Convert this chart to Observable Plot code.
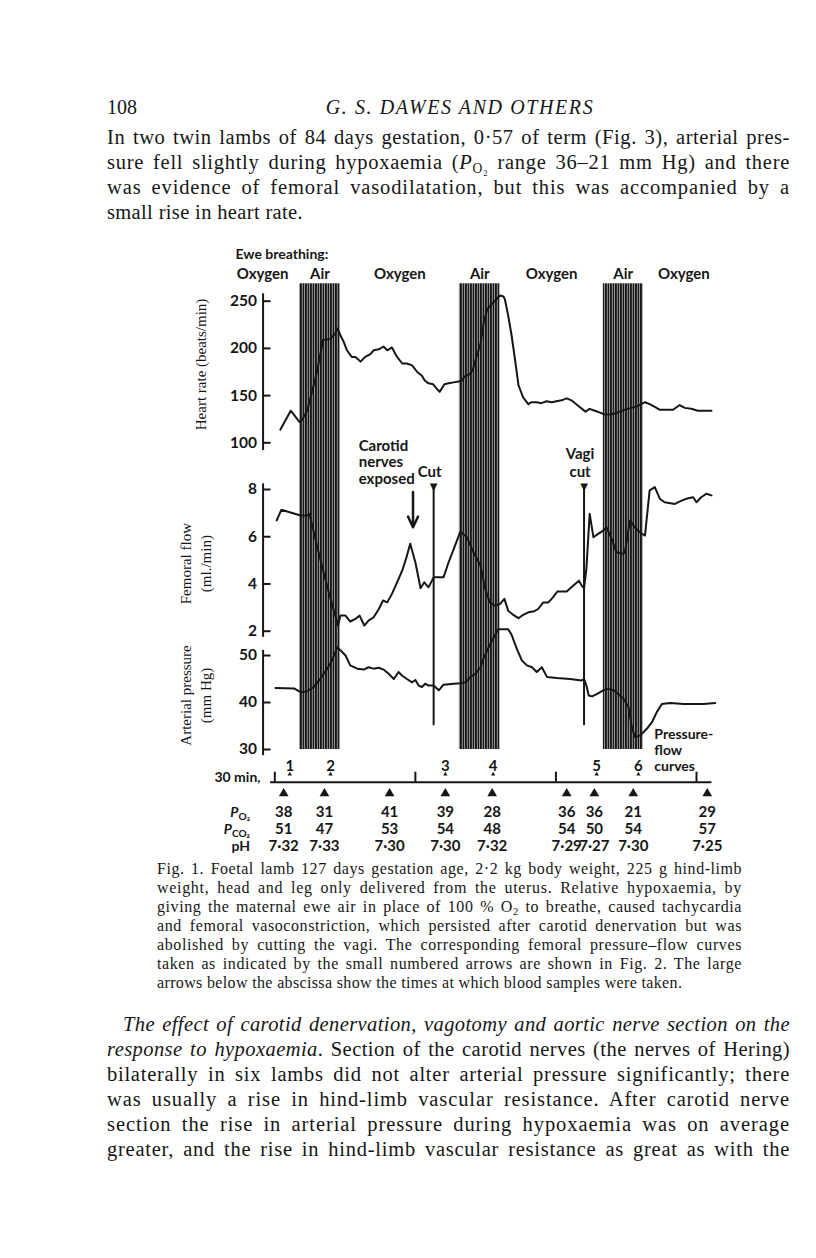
<!DOCTYPE html>
<html>
<head>
<meta charset="utf-8">
<script src="https://cdn.jsdelivr.net/npm/d3@7"></script>
<script src="https://cdn.jsdelivr.net/npm/@observablehq/plot@0.6"></script>
<style>
html,body{margin:0;padding:0;background:#fff;}
#page{position:relative;width:816px;height:1258px;overflow:hidden;background:#fff;color:#161616;}
.t{position:absolute;font-family:"Liberation Serif","Times New Roman",serif;white-space:nowrap;}
.jl{text-align:justify;text-align-last:justify;}
.body{font-size:20.5px;line-height:25px;left:107px;width:683px;}
.cap{font-size:16px;line-height:19px;left:157px;width:585px;}
sub{font-size:0.66em;line-height:0;vertical-align:-0.3em;}
.row{position:absolute;font-family:Lato,"DejaVu Sans",sans-serif;font-weight:bold;font-size:14px;text-align:right;width:70px;left:180px;line-height:16px;color:#161616;}
.row sub{font-size:0.72em;}
#fig{position:absolute;left:0;top:0;width:816px;height:880px;}
</style>
</head>
<body>
<div id="page">
<svg width="0" height="0" style="position:absolute"><defs>
<pattern id="airHatch" patternUnits="userSpaceOnUse" width="5" height="12">
<rect width="5" height="12" fill="#e6e6e6"/>
<rect x="0" width="1.9" height="12" fill="#161616"/>
<rect x="2.5" width="1.9" height="12" fill="#161616"/>
</pattern></defs></svg>

<div class="t" style="left:107px;top:94.5px;font-size:20px;line-height:25px;">108</div>
<div class="t" style="left:260px;width:400px;text-align:center;top:94.5px;font-size:20px;line-height:25px;font-style:italic;letter-spacing:1.6px;">G. S. DAWES AND OTHERS</div>

<div class="t body jl" style="top:124.5px;">In two twin lambs of 84 days gestation, 0·57 of term (Fig. 3), arterial pres-</div>
<div class="t body jl" style="top:149.5px;">sure fell slightly during hypoxaemia (<i>P</i><sub>O₂</sub> range 36–21 mm Hg) and there</div>
<div class="t body jl" style="top:174.5px;">was evidence of femoral vasodilatation, but this was accompanied by a</div>
<div class="t body fit" style="top:199.5px;">small rise in heart rate.</div>

<div id="fig"></div>

<div class="row" style="top:804px;"><i>P</i><sub>O₂</sub></div>
<div class="row" style="top:821px;"><i>P</i><sub>CO₂</sub></div>
<div class="row" style="top:838px;">pH</div>

<div class="t cap jl" style="top:858.5px;">Fig. 1. Foetal lamb 127 days gestation age, 2·2 kg body weight, 225 g hind-limb</div>
<div class="t cap jl" style="top:877.5px;">weight, head and leg only delivered from the uterus. Relative hypoxaemia, by</div>
<div class="t cap jl" style="top:896.5px;">giving the maternal ewe air in place of 100 % O<sub>2</sub> to breathe, caused tachycardia</div>
<div class="t cap jl" style="top:915.5px;">and femoral vasoconstriction, which persisted after carotid denervation but was</div>
<div class="t cap jl" style="top:934.5px;">abolished by cutting the vagi. The corresponding femoral pressure–flow curves</div>
<div class="t cap jl" style="top:953.5px;">taken as indicated by the small numbered arrows are shown in Fig. 2. The large</div>
<div class="t cap fit" style="top:972.5px;">arrows below the abscissa show the times at which blood samples were taken.</div>

<div class="t body jl" style="top:1011.5px;left:123px;width:667px;"><i>The effect of carotid denervation, vagotomy and aortic nerve section on the</i></div>
<div class="t body jl" style="top:1036.5px;"><i>response to hypoxaemia</i>. Section of the carotid nerves (the nerves of Hering)</div>
<div class="t body jl" style="top:1061.5px;">bilaterally in six lambs did not alter arterial pressure significantly; there</div>
<div class="t body jl" style="top:1086.5px;">was usually a rise in hind-limb vascular resistance. After carotid nerve</div>
<div class="t body jl" style="top:1111.5px;">section the rise in arterial pressure during hypoxaemia was on average</div>
<div class="t body jl" style="top:1136.5px;">greater, and the rise in hind-limb vascular resistance as great as with the</div>
</div>

<script>
// ---------------- data (time in minutes) ----------------
const phaseLabels = ["Oxygen", "Air", "Oxygen", "Air", "Oxygen", "Air", "Oxygen"];
const phaseStart  = [-10.5, 5.3, 14.0, 39.4, 48.1, 70.1, 78.6];
const phaseEnd    = [5.3, 14.0, 39.4, 48.1, 70.1, 78.6, 96.0];

const hrTime = [1.2, 3.4, 5.3, 5.8, 6.9, 8.0, 9.0, 10.3, 11.9, 12.9, 13.4, 14.0, 14.7, 15.4, 16.4, 17.2, 18.3, 19.3, 20.4, 21.1, 22.2, 23.2, 24.0, 25.0, 26.1, 27.2, 28.2, 29.3, 30.4, 31.4, 32.0, 32.8, 33.8, 34.6, 35.2, 36.2, 37.1, 38.2, 39.2, 40.0, 40.4, 41.7, 42.3, 42.8, 43.9, 44.6, 45.3, 46.3, 47.3, 48.1, 48.8, 49.1, 49.8, 50.5, 51.3, 52.0, 53.0, 54.1, 54.8, 55.9, 56.9, 58.0, 59.1, 60.1, 61.2, 62.3, 63.3, 64.8, 66.3, 67.2, 68.3, 69.4, 70.4, 71.5, 72.6, 73.6, 74.7, 76.1, 77.5, 79.0, 80.0, 81.1, 82.2, 85.0, 86.4, 87.5, 88.9, 90.3, 93.2];
const hrRate = [114, 134, 122, 124, 134, 155, 175, 209, 210, 216, 221, 214, 207, 198, 191, 191, 186, 191, 194, 198, 199, 202, 198, 201, 191, 184, 184, 182, 175, 171, 166, 163, 162, 157, 154, 162, 163, 164, 165, 166, 170, 173, 178, 187, 205, 228, 241, 247, 252, 256, 255, 252, 235, 215, 187, 161, 148, 141, 143, 143, 142, 144, 143, 144, 145, 147, 145, 139, 133, 136, 134, 132, 130, 130, 131, 133, 135, 137, 139, 143, 141, 138, 135, 135, 140, 137, 136, 134, 134];

const flowTime = [0.4, 1.4, 5.5, 6.9, 7.4, 8.0, 9.0, 10.4, 11.9, 12.9, 13.5, 14.0, 15.1, 16.1, 17.2, 18.1, 19.1, 20.0, 21.1, 22.2, 23.1, 24.0, 25.0, 26.1, 27.2, 28.0, 28.9, 30.0, 31.1, 31.9, 32.8, 33.9, 36.0, 37.1, 38.2, 39.6, 41.0, 42.4, 43.9, 44.9, 45.9, 47.0, 48.1, 49.0, 49.8, 50.9, 52.0, 53.0, 54.1, 55.2, 56.2, 57.3, 58.4, 59.4, 60.3, 62.3, 63.3, 64.9, 65.5, 66.0, 66.5, 67.2, 68.0, 69.0, 70.1, 70.8, 71.9, 72.9, 74.4, 74.7, 75.8, 76.8, 77.9, 79.0, 80.0, 81.1, 82.2, 83.2, 85.4, 86.8, 88.2, 89.3, 90.0, 91.0, 92.1, 93.2];
const flowRate = [6.69, 7.14, 6.90, 6.90, 6.97, 6.47, 5.63, 4.50, 3.37, 2.66, 2.24, 2.66, 2.66, 2.41, 2.52, 2.66, 2.24, 2.45, 2.59, 2.94, 3.30, 3.22, 3.58, 4.07, 4.57, 5.06, 5.70, 4.92, 3.82, 4.07, 3.86, 4.28, 4.28, 4.92, 5.49, 6.22, 5.98, 5.34, 4.78, 3.79, 3.22, 3.08, 3.16, 3.37, 2.87, 2.69, 2.55, 2.69, 2.80, 2.83, 2.94, 3.22, 3.22, 3.44, 3.68, 3.68, 3.86, 4.14, 3.93, 3.82, 4.64, 6.97, 5.98, 6.12, 6.26, 6.40, 5.91, 5.34, 5.28, 5.34, 6.69, 6.40, 6.19, 6.05, 7.96, 8.10, 7.60, 7.46, 7.39, 7.53, 7.63, 7.67, 7.46, 7.67, 7.82, 7.75];

const presTime = [0.15, 4.1, 5.5, 6.9, 8.3, 9.7, 11.2, 12.2, 12.9, 13.4, 14.0, 15.1, 16.1, 17.6, 19.0, 20.0, 21.1, 22.2, 23.2, 24.3, 25.4, 26.4, 27.2, 28.2, 29.3, 30.0, 30.7, 31.4, 32.1, 32.8, 33.9, 35.0, 36.0, 38.2, 39.6, 40.7, 41.7, 42.8, 43.9, 44.6, 46.0, 47.7, 49.8, 50.5, 51.7, 52.7, 53.8, 54.9, 55.9, 57.0, 58.1, 60.2, 63.0, 65.5, 66.0, 66.5, 67.0, 67.7, 68.7, 70.1, 71.2, 72.3, 73.3, 74.4, 75.5, 76.2, 76.9, 78.0, 79.4, 80.5, 81.5, 82.6, 84.4, 87.2, 91.5, 94.0];
const presMmHg = [43.1, 43.0, 42.2, 42.4, 43.3, 45.0, 47.2, 48.9, 50.7, 51.8, 51.1, 50.0, 47.9, 47.2, 47.0, 47.5, 47.2, 47.4, 47.0, 46.1, 45.0, 46.5, 45.7, 45.0, 44.3, 44.8, 43.6, 43.3, 44.0, 43.6, 43.6, 42.6, 43.8, 44.0, 44.1, 44.3, 45.4, 46.1, 47.5, 49.5, 52.5, 55.6, 55.6, 54.5, 51.3, 49.0, 47.9, 47.5, 46.5, 47.5, 45.4, 45.2, 45.0, 44.7, 45.0, 43.6, 41.5, 41.3, 41.8, 42.6, 42.9, 42.6, 41.8, 40.8, 39.0, 34.7, 32.6, 33.0, 34.4, 35.8, 37.9, 39.7, 39.9, 39.7, 39.7, 39.9];

const hrTicks = [100, 150, 200, 250];
const flowTicks = [2, 4, 6, 8];
const presTicks = [30, 40, 50];
const timeTicks = [0, 30, 60, 90];

const curveLabels = ["1", "2", "3", "4", "5", "6"];
const curveTime = [3.2, 11.9, 36.4, 46.6, 68.7, 77.6];

const sampleTime = [1.9, 10.6, 24.5, 36.4, 46.4, 62.3, 68.2, 76.5, 92.3];
const samplePO2 = [38, 31, 41, 39, 28, 36, 36, 21, 29];
const samplePCO2 = [51, 47, 53, 54, 48, 54, 50, 54, 57];
const samplePH = ["7·32", "7·33", "7·30", "7·30", "7·32", "7·29", "7·27", "7·30", "7·25"];

const exposedTime = [29.5];
const exposedLabel = "Carotid\nnerves\nexposed";
const cutTime = [33.9, 66.0];
const cutLabels = ["Cut", "Vagi\ncut"];

// ---------------- tables built from the arrays ----------------
const phases = phaseLabels.map((label, i) => ({label, start: phaseStart[i], end: phaseEnd[i], mid: (phaseStart[i] + phaseEnd[i]) / 2}));
const hr = hrTime.map((t, i) => ({t, v: hrRate[i]}));
const flow = flowTime.map((t, i) => ({t, v: flowRate[i]}));
const pres = presTime.map((t, i) => ({t, v: presMmHg[i]}));
const curves = curveTime.map((t, i) => ({t, label: curveLabels[i]}));
const samples = sampleTime.map((t, i) => ({t, po2: String(samplePO2[i]), pco2: String(samplePCO2[i]), ph: samplePH[i]}));
const cuts = cutTime.map((t, i) => ({t, label: cutLabels[i]}));

// ---------------- drawing ----------------
const ink = "#161616";
const sans = "Lato, 'DejaVu Sans', sans-serif";
const serif = "'Liberation Serif', 'Times New Roman', serif";
const bold = {fontFamily: sans, fontWeight: "bold", fill: ink};
const fig = document.getElementById("fig");
const X = {domain: [0, 90], range: [274.3, 696], axis: null};
const AXIS_T = -2.5, TICK_T = -0.8;

function layer(y, marks, m = {}) {
  const svg = Plot.plot({
    width: 816, height: 880,
    marginLeft: m.left ?? 262.5, marginRight: m.right ?? 0,
    marginTop: m.top ?? 0, marginBottom: m.bottom ?? 0,
    x: X, y: {...y, axis: null},
    marks
  });
  svg.style.position = "absolute";
  svg.style.left = "0px";
  svg.style.top = "0px";
  svg.style.background = "transparent";
  svg.style.overflow = "visible";
  svg.style.maxWidth = "none";
  fig.appendChild(svg);
}

function axisMarks(ticks, lo, hi) {
  return [
    Plot.ruleX([AXIS_T], {y1: lo, y2: hi, stroke: ink, strokeWidth: 2}),
    Plot.ruleY(ticks, {x1: AXIS_T, x2: TICK_T, stroke: ink, strokeWidth: 2}),
    Plot.text(ticks, {x: AXIS_T, y: d => d, text: d => String(d), textAnchor: "end", dx: -6, fontSize: 15.5, ...bold})
  ];
}

// Air bands (span the full recording height)
layer({}, [
  Plot.rect(phases.filter(d => d.label === "Air"), {x1: "start", x2: "end", fill: "url(#airHatch)"})
], {top: 283.3, bottom: 880 - 749});

// Heart rate
layer({domain: [100, 250], range: [442.3, 300.7]}, [
  ...axisMarks(hrTicks, 91.8, 257.8),
  Plot.text(["Heart rate (beats/min)"], {x: -15.8, y: 183, rotate: -90, fontFamily: serif, fontSize: 15, fill: ink}),
  Plot.text(["Ewe breathing:"], {x: -8.4, y: 294.7, textAnchor: "start", lineAnchor: "bottom", fontSize: 14, ...bold}),
  Plot.text(phases, {x: "mid", y: 273.7, text: "label", lineAnchor: "bottom", fontSize: 15, ...bold}),
  Plot.line(hr, {x: "t", y: "v", stroke: ink, strokeWidth: 2})
]);

// Femoral flow
layer({domain: [2, 8], range: [630.7, 489]}, [
  ...axisMarks(flowTicks, 1.74, 8.24),
  Plot.text(["Femoral flow\n(ml./min)"], {x: -17.1, y: 4.86, rotate: -90, lineHeight: 1.33, fontFamily: serif, fontSize: 15, fill: ink}),
  Plot.text([exposedLabel], {x: 17.9, y: 8.25, textAnchor: "start", lineAnchor: "bottom", lineHeight: 1.1, fontSize: 15, ...bold}),
  Plot.arrow(exposedTime, {x1: d => d, x2: d => d, y1: 7.89, y2: 6.40, stroke: ink, strokeWidth: 2.5, headLength: 9, headAngle: 50}),
  Plot.ruleX(cutTime, {y1: 8.15, y2: -2.0, stroke: ink, strokeWidth: 2}),
  Plot.text(cutTime, {x: d => d, y: 8.13, text: () => "▼", fontSize: 10, fill: ink, fontFamily: "'DejaVu Sans', sans-serif"}),
  Plot.text(cuts, {x: "t", y: 8.52, text: "label", dx: -4, lineAnchor: "bottom", lineHeight: 1.2, fontSize: 15, ...bold}),
  Plot.line(flow, {x: "t", y: "v", stroke: ink, strokeWidth: 2})
]);

// Arterial pressure
layer({domain: [30, 50], range: [749, 655]}, [
  ...axisMarks(presTicks, 28.7, 51.1),
  Plot.text(["Arterial pressure\n(mm Hg)"], {x: -17.1, y: 41.5, rotate: -90, lineHeight: 1.33, fontFamily: serif, fontSize: 15, fill: ink}),
  Plot.text(["Pressure-\nflow\ncurves"], {x: 81.0, y: 25.5, textAnchor: "start", lineAnchor: "bottom", lineHeight: 1.12, fontSize: 14, ...bold}),
  Plot.line(pres, {x: "t", y: "v", stroke: ink, strokeWidth: 2})
]);

// Time base, pressure-flow curve markers and blood samples
layer({domain: [0, 1], range: [781.7, 771.7]}, [
  Plot.ruleY([0], {x1: -0.9, x2: 93.3, stroke: ink, strokeWidth: 2}),
  Plot.ruleX(timeTicks, {y1: 0, y2: 1, stroke: ink, strokeWidth: 2}),
  Plot.text(["30 min,"], {x: -0.9, y: 0.5, textAnchor: "end", dx: -10, fontSize: 14, ...bold}),
  Plot.text(curves, {x: "t", y: 1.62, text: "label", fontSize: 15, ...bold}),
  Plot.dot(curves, {x: "t", y: 0.8, symbol: "triangle", r: 1.6, fill: ink, stroke: "none"}),
  Plot.dot(samples, {x: "t", y: -1.13, symbol: "triangle", r: 3.6, fill: ink, stroke: "none"}),
  Plot.text(samples, {x: "t", y: -3.03, text: "po2", fontSize: 15, ...bold}),
  Plot.text(samples, {x: "t", y: -4.73, text: "pco2", fontSize: 15, ...bold}),
  Plot.text(samples, {x: "t", y: -6.43, text: "ph", fontSize: 15, ...bold})
]);

// typeset each line: spread letters a little, then justify the rest
function natural(el) {
  const r = document.createRange();
  r.selectNodeContents(el);
  return r.getBoundingClientRect().width;
}
document.querySelectorAll(".jl").forEach(el => {
  const target = el.clientWidth;
  el.style.textAlign = "left"; el.style.textAlignLast = "left";
  const w = natural(el);
  const n = el.textContent.length;
  let ls = Math.max(-1.5, Math.min(1.0, (target - w) * 0.6 / n));
  el.style.letterSpacing = ls + "px";
  el.style.textAlign = ""; el.style.textAlignLast = "";
  while (natural(el) > target + 0.5 && ls > -2) {
    ls -= 0.05;
    el.style.letterSpacing = ls + "px";
  }
});
document.querySelectorAll(".fit").forEach(el => { el.style.letterSpacing = "0.35px"; });
</script>
</body>
</html>
